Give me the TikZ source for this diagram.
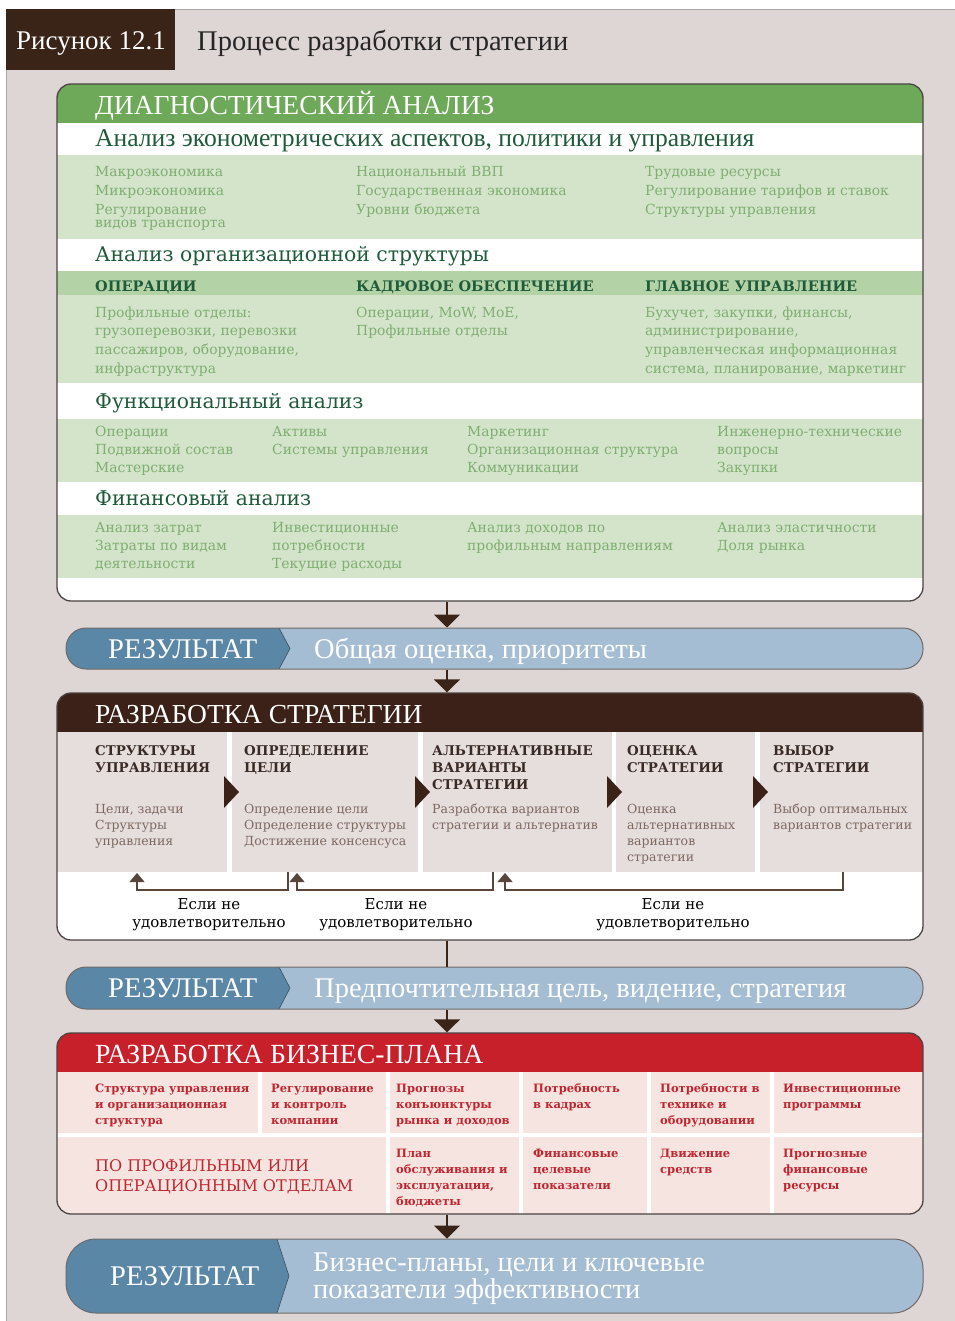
\documentclass[tikz,border=0pt]{standalone}
\usepackage{fontspec}
\setmainfont{DejaVu Serif}
\newfontfamily\hfont{Liberation Serif}
\usetikzlibrary{arrows.meta}
\definecolor{bg}{HTML}{DDD6D4}
\definecolor{titlebrown}{HTML}{3A2418}
\definecolor{ggreen}{HTML}{6EA95A}
\definecolor{gband}{HTML}{D3E4CB}
\definecolor{gmid}{HTML}{B3D2A5}
\definecolor{gdark}{HTML}{1F5B3B}
\definecolor{glight}{HTML}{7FAE70}
\definecolor{rdark}{HTML}{5B87A6}
\definecolor{rlight}{HTML}{A4BDD2}
\definecolor{bhead}{HTML}{3B2117}
\definecolor{bcol}{HTML}{E5DEDC}
\definecolor{btext}{HTML}{3A2A25}
\definecolor{bbody}{HTML}{7D6862}
\definecolor{redhead}{HTML}{C7202B}
\definecolor{pinkc}{HTML}{F6E4E0}
\definecolor{redtext}{HTML}{BF2630}
\definecolor{framec}{HTML}{4A4442}
\definecolor{arrowc}{HTML}{3A2418}
\begin{document}
\begin{tikzpicture}[x=1pt,y=-1pt,
  sect/.style={draw=framec, line width=1.3pt, rounded corners=14pt, minimum width=866pt, inner sep=0pt},
  pill/.style={draw=framec!80, line width=1pt, inner sep=0pt},
  flow/.style={draw=arrowc, line width=1.8pt, -{Triangle[width=26pt,length=13pt]}},
  plainflow/.style={draw=arrowc, line width=1.8pt},
  fb/.style={draw=arrowc!85, line width=1.2pt, -{Triangle[width=15pt,length=9pt]}},
  gitem/.style={anchor=base west, inner sep=0pt, align=left, text=glight, font=\fontsize{13.9}{18.7}\selectfont},
  gitemb/.style={gitem, font=\fontsize{13.9}{18}\selectfont},
  ghead/.style={anchor=base west, inner sep=0pt, text=gdark, font=\bfseries\fontsize{14.5}{16}\selectfont},
  gsec/.style={anchor=base west, inner sep=0pt, text=gdark, font=\fontsize{20.3}{22}\selectfont},
  bighead/.style={anchor=base west, inner sep=0pt, text=white, font=\hfont\fontsize{27.5}{27.5}\selectfont},
  bcolh/.style={anchor=base west, inner sep=0pt, align=left, text=btext, font=\bfseries\fontsize{13.4}{17}\selectfont},
  bcolb/.style={anchor=base west, inner sep=0pt, align=left, text=bbody, font=\fontsize{12.5}{16}\selectfont},
  rcell/.style={anchor=base west, inner sep=0pt, align=left, text=redtext, font=\bfseries\fontsize{11.5}{16}\selectfont},
  restext/.style={anchor=base west, inner sep=0pt, align=left, text=white, font=\hfont\fontsize{28.5}{25}\selectfont},
  fblabel/.style={anchor=base, inner sep=0pt, align=center, text=black, font=\fontsize{15}{18}\selectfont}
]
\useasboundingbox (0,0) rectangle (954,1321);
\fill[white] (0,0) rectangle (954,1321);
\filldraw[fill=bg, draw=gray!70, line width=1pt] (6.5,9.5) rectangle (955,1322);
\coordinate (ax) at (447,0);

% title
\node[fill=titlebrown, minimum width=169pt, minimum height=61pt, anchor=north west, inner sep=0pt] (figbox) at (6,9) {};
\node[anchor=base west, inner sep=0pt, text=white, font=\hfont\fontsize{27}{27}\selectfont] (figlabel) at (16,50) {Рисунок 12.1};
\node[anchor=base west, inner sep=0pt, text=black!85, font=\hfont\fontsize{28.5}{28}\selectfont] (title) at (197,51) {Процесс разработки стратегии};

% ===== diagnostic section
\begin{scope}
\clip[rounded corners=14pt] (57,84) rectangle (923,601);
\fill[white] (57,84) rectangle (923,601);
\fill[ggreen] (57,84) rectangle (923,123);
\fill[gband] (57,155) rectangle (923,239);
\fill[gmid] (57,271) rectangle (923,295);
\fill[gband] (57,295) rectangle (923,383);
\fill[gband] (57,419) rectangle (923,482);
\fill[gband] (57,515) rectangle (923,578);
\end{scope}
\node[sect, minimum height=517pt] (diag) at (490,342.5) {};
\node[bighead] (diagT) at (95,115) {ДИАГНОСТИЧЕСКИЙ АНАЛИЗ};
\node[gsec, font=\hfont\fontsize{25.6}{25}\selectfont] (econT) at (95,147) {Анализ эконометрических аспектов, политики и управления};
\node[gitem] (e1) at (95,227.4) {Макроэкономика\\Микроэкономика\\Регулирование\\[-5.7pt]видов транспорта};
\node[gitem] (e2) at (356,214.4) {Национальный ВВП\\Государственная экономика\\Уровни бюджета};
\node[gitem] (e3) at (645,214.4) {Трудовые ресурсы\\Регулирование тарифов и ставок\\Структуры управления};

\node[gsec] (orgT) at (95,262) {Анализ организационной структуры};
\node[ghead] (o1h) at (95,291) {ОПЕРАЦИИ};
\node[ghead] (o2h) at (356,291) {КАДРОВОЕ ОБЕСПЕЧЕНИЕ};
\node[ghead] (o3h) at (645,291) {ГЛАВНОЕ УПРАВЛЕНИЕ};
\node[gitem] (o1) at (95,373.1) {Профильные отделы:\\грузоперевозки, перевозки\\пассажиров, оборудование,\\инфраструктура};
\node[gitem] (o2) at (356,335.7) {Операции, MoW, MoE,\\Профильные отделы};
\node[gitem] (o3) at (645,373.1) {Бухучет, закупки, финансы,\\администрирование,\\управленческая информационная\\система, планирование, маркетинг};

\node[gsec] (funT) at (95,408) {Функциональный анализ};
\node[gitemb] (f1) at (95,472) {Операции\\Подвижной состав\\Мастерские};
\node[gitemb] (f2) at (272,454) {Активы\\Системы управления};
\node[gitemb] (f3) at (467,472) {Маркетинг\\Организационная структура\\Коммуникации};
\node[gitemb] (f4) at (717,472) {Инженерно-технические\\вопросы\\Закупки};

\node[gsec] (finT) at (95,505) {Финансовый анализ};
\node[gitemb] (n1) at (95,568) {Анализ затрат\\Затраты по видам\\деятельности};
\node[gitemb] (n2) at (272,568) {Инвестиционные\\потребности\\Текущие расходы};
\node[gitemb] (n3) at (467,550) {Анализ доходов по\\профильным направлениям};
\node[gitemb] (n4) at (717,550) {Анализ эластичности\\Доля рынка};

% ===== result 1
\begin{scope}
\clip[rounded corners=20pt] (66,628) rectangle (923,669);
\fill[rlight] (66,628) rectangle (923,669);
\fill[rdark] (66,628) -- (279,628) -- (290,648.5) -- (279,669) -- (66,669) -- cycle;
\draw[rdark!60!black, line width=0.6pt] (279,628) -- (290,648.5) -- (279,669);
\end{scope}
\node[pill, rounded corners=20pt, minimum width=857pt, minimum height=41pt] (res1) at (494.5,648.5) {};
\node[restext] (res1a) at (108,658) {РЕЗУЛЬТАТ};
\node[restext] (res1b) at (314,658) {Общая оценка, приоритеты};

% ===== strategy section
\begin{scope}
\clip[rounded corners=14pt] (57,693) rectangle (923,940);
\fill[white] (57,693) rectangle (923,940);
\fill[bhead] (57,693) rectangle (923,732);
\fill[bcol] (57,732) rectangle (227,872);
\fill[bcol] (232,732) rectangle (418,872);
\fill[bcol] (423,732) rectangle (612,872);
\fill[bcol] (616,732) rectangle (755,872);
\fill[bcol] (760,732) rectangle (923,872);
\fill[bhead] (224,776) -- (239,792) -- (224,808) -- cycle;
\fill[bhead] (415,776) -- (430,792) -- (415,808) -- cycle;
\fill[bhead] (607,776) -- (622,792) -- (607,808) -- cycle;
\fill[bhead] (753,776) -- (768,792) -- (753,808) -- cycle;
\end{scope}
\node[sect, minimum height=247pt] (strat) at (490,816.5) {};
\node[bighead] (stratT) at (95,723) {РАЗРАБОТКА СТРАТЕГИИ};
\node[bcolh] (s1h) at (95,772) {СТРУКТУРЫ\\УПРАВЛЕНИЯ};
\node[bcolh] (s2h) at (244,772) {ОПРЕДЕЛЕНИЕ\\ЦЕЛИ};
\node[bcolh] (s3h) at (432,789) {АЛЬТЕРНАТИВНЫЕ\\ВАРИАНТЫ\\СТРАТЕГИИ};
\node[bcolh] (s4h) at (627,772) {ОЦЕНКА\\СТРАТЕГИИ};
\node[bcolh] (s5h) at (773,772) {ВЫБОР\\СТРАТЕГИИ};
\node[bcolb] (s1b) at (95,845) {Цели, задачи\\Структуры\\управления};
\node[bcolb] (s2b) at (244,845) {Определение цели\\Определение структуры\\Достижение консенсуса};
\node[bcolb] (s3b) at (432,829) {Разработка вариантов\\стратегии и альтернатив};
\node[bcolb] (s4b) at (627,861) {Оценка\\альтернативных\\вариантов\\стратегии};
\node[bcolb] (s5b) at (773,829) {Выбор оптимальных\\вариантов стратегии};

\coordinate (fb1a) at (288,872); \coordinate (fb1b) at (137,873);
\coordinate (fb2a) at (493,872); \coordinate (fb2b) at (297,873);
\coordinate (fb3a) at (843,872); \coordinate (fb3b) at (505,873);
\draw[fb] (fb1a) -- ++(0,18) -| (fb1b);
\draw[fb] (fb2a) -- ++(0,18) -| (fb2b);
\draw[fb] (fb3a) -- ++(0,18) -| (fb3b);
\node[fblabel] (l1) at (209,927) {Если не\\удовлетворительно};
\node[fblabel] (l2) at (396,927) {Если не\\удовлетворительно};
\node[fblabel] (l3) at (673,927) {Если не\\удовлетворительно};

% ===== result 2
\begin{scope}
\clip[rounded corners=20pt] (66,967) rectangle (923,1009);
\fill[rlight] (66,967) rectangle (923,1009);
\fill[rdark] (66,967) -- (279,967) -- (290,988) -- (279,1009) -- (66,1009) -- cycle;
\draw[rdark!60!black, line width=0.6pt] (279,967) -- (290,988) -- (279,1009);
\end{scope}
\node[pill, rounded corners=20pt, minimum width=857pt, minimum height=42pt] (res2) at (494.5,988) {};
\node[restext] (res2a) at (108,997) {РЕЗУЛЬТАТ};
\node[restext] (res2b) at (314,997) {Предпочтительная цель, видение, стратегия};

% ===== business plan section
\begin{scope}
\clip[rounded corners=14pt] (57,1033) rectangle (923,1214);
\fill[pinkc] (57,1033) rectangle (923,1214);
\fill[redhead] (57,1033) rectangle (923,1072);
\draw[white, line width=4pt] (57,1135) -- (923,1135);
\draw[white, line width=4pt] (259.5,1072) -- (259.5,1135);
\foreach \xx in {388,520.5,648.5,771.5} {\draw[white, line width=4pt] (\xx,1072) -- (\xx,1214);}
\end{scope}
\node[sect, minimum height=181pt] (plan) at (490,1123.5) {};
\node[bighead, font=\hfont\fontsize{27.7}{27.7}\selectfont] (planT) at (95,1063) {РАЗРАБОТКА БИЗНЕС-ПЛАНА};
\node[rcell] (p1) at (95,1124) {Структура управления\\и организационная\\структура};
\node[rcell] (p2) at (271,1124) {Регулирование\\и контроль\\компании};
\node[rcell] (p3) at (396,1124) {Прогнозы\\конъюнктуры\\рынка и доходов};
\node[rcell] (p4) at (533,1108) {Потребность\\в кадрах};
\node[rcell] (p5) at (660,1124) {Потребности в\\технике и\\оборудовании};
\node[rcell] (p6) at (783,1108) {Инвестиционные\\программы};
\node[rcell, font=\fontsize{16}{20}\selectfont] (q1) at (95,1191) {ПО ПРОФИЛЬНЫМ ИЛИ\\ОПЕРАЦИОННЫМ ОТДЕЛАМ};
\node[rcell] (q3) at (396,1205) {План\\обслуживания и\\эксплуатации,\\бюджеты};
\node[rcell] (q4) at (533,1189) {Финансовые\\целевые\\показатели};
\node[rcell] (q5) at (660,1173) {Движение\\средств};
\node[rcell] (q6) at (783,1189) {Прогнозные\\финансовые\\ресурсы};

% ===== result 3
\begin{scope}
\clip[rounded corners=30pt] (66,1239) rectangle (923,1313);
\fill[rlight] (66,1239) rectangle (923,1313);
\fill[rdark] (66,1239) -- (277,1239) -- (289,1276) -- (277,1313) -- (66,1313) -- cycle;
\draw[rdark!60!black, line width=0.6pt] (277,1239) -- (289,1276) -- (277,1313);
\end{scope}
\node[pill, rounded corners=30pt, minimum width=857pt, minimum height=74pt] (res3) at (494.5,1276) {};
\node[restext] (res3a) at (110,1285) {РЕЗУЛЬТАТ};
\node[restext] (res3b) at (313,1298) {Бизнес-планы, цели и ключевые\\показатели эффективности};

% ===== flow connectors
\draw[flow] (diag.south -| ax) -- (res1.north -| ax);
\draw[flow] (res1.south -| ax) -- (strat.north -| ax);
\draw[plainflow] (strat.south -| ax) -- (res2.north -| ax);
\draw[flow] (res2.south -| ax) -- (plan.north -| ax);
\draw[flow] (plan.south -| ax) -- (res3.north -| ax);
\end{tikzpicture}
\end{document}
